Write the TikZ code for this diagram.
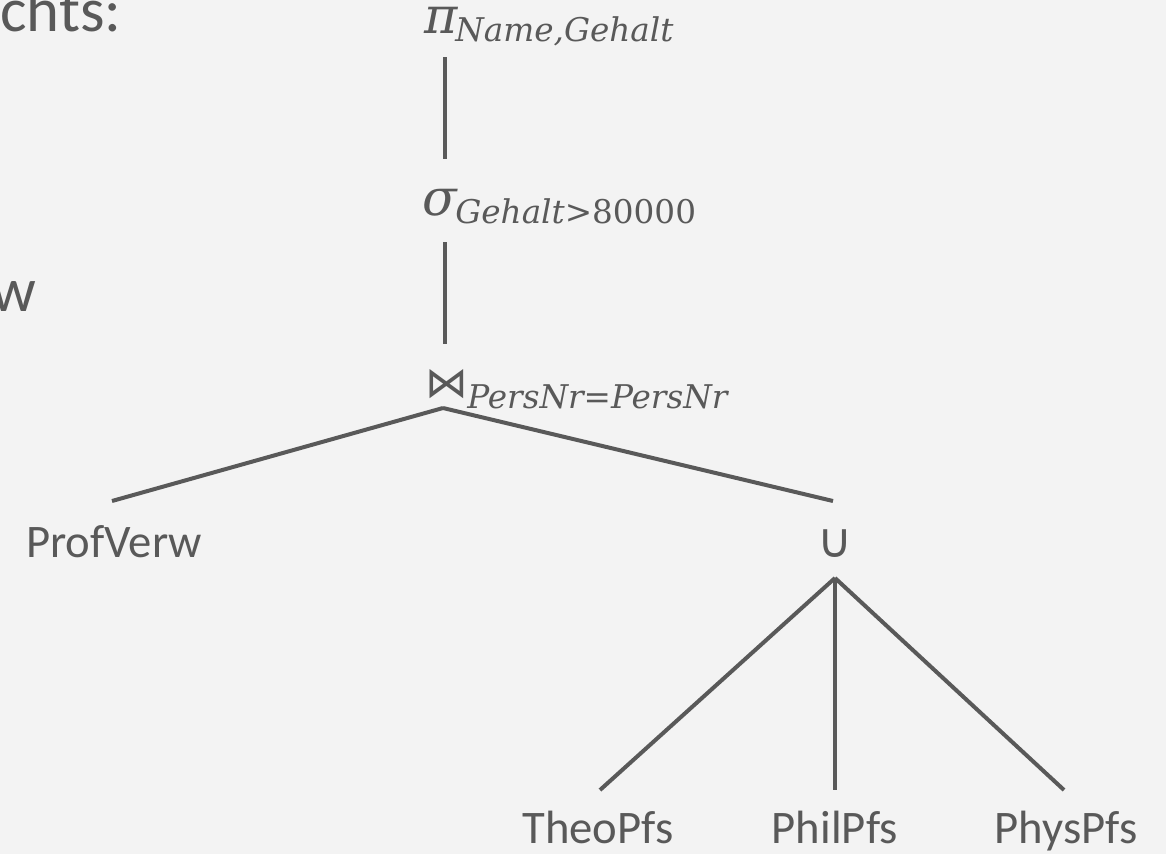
\documentclass[tikz,border=0pt]{standalone}
\usepackage{fontspec}
\setmainfont{Carlito}
\newfontfamily\mfont{DejaVu Serif}
\newfontfamily\symfont{DejaVu Sans}
\definecolor{txt}{HTML}{595959}
\definecolor{bg}{HTML}{F3F3F3}
\begin{document}
\begin{tikzpicture}[x=0.75pt,y=-0.75pt,
  lbl/.style={text=txt, font=\fontsize{35}{42}\selectfont, inner sep=0pt, anchor=base},
  big/.style={text=txt, font=\fontsize{47}{54}\selectfont, inner sep=0pt, anchor=base west},
  opsym/.style={text=txt, font=\fontsize{38}{44}\mfont\itshape, inner sep=0pt, anchor=base},
  subs/.style={text=txt, font=\fontsize{24.5}{28}\mfont, inner sep=0pt, anchor=base west},
  edge/.style={draw=txt, line width=3pt}]
\fill[bg] (0,0) rectangle (1166,854);
\useasboundingbox (0,0) rectangle (1166,854);

% cut-off slide text
\node[big] (t1) at (0,31) {chts:};
\node[big] (t2) at (-9,311) {w};

% operators
\node[opsym] (pi) at (441,33) {π};
\node[subs] (pisub) at (455,41) {\itshape Name,Gehalt};
\node[opsym] (sigma) at (440,215) {σ};
\node[subs] (sigsub) at (455,223) {\itshape Gehalt\upshape{}>80000};
\node[text=txt, font=\fontsize{32}{36}\symfont, inner sep=0pt, anchor=base] (join) at (447,397) {⋈};
\node[subs] (joinsub) at (467,408) {\itshape PersNr\upshape{}=\itshape{}PersNr};

% leaves
\node[lbl] (prof) at (114,557) {ProfVerw};
\node[text=txt, font=\fontsize{36}{40}\symfont, inner sep=0pt, anchor=base] (union) at (835,557) {∪};
\node[lbl] (theo) at (598,843) {TheoPfs};
\node[lbl] (phil) at (835,843) {PhilPfs};
\node[lbl] (phys) at (1066,843) {PhysPfs};

% connector end points
\coordinate (pi-s) at (445,57);
\coordinate (sigma-n) at (445,159);
\coordinate (sigma-s) at (445,242);
\coordinate (join-n) at (445,344);
\coordinate (join-s) at (443,408);
\coordinate (prof-n) at (112,501);
\coordinate (union-n) at (833,501);
\coordinate (union-s) at (835,578);
\coordinate (theo-n) at (600,790);
\coordinate (phil-n) at (835,790);
\coordinate (phys-n) at (1064,790);

\draw[edge] (pi-s) -- (sigma-n);
\draw[edge] (sigma-s) -- (join-n);
\draw[edge] (join-s) -- (prof-n);
\draw[edge] (join-s) -- (union-n);
\draw[edge] (union-s) -- (theo-n);
\draw[edge] (union-s) -- (phil-n);
\draw[edge] (union-s) -- (phys-n);
\end{tikzpicture}
\end{document}
